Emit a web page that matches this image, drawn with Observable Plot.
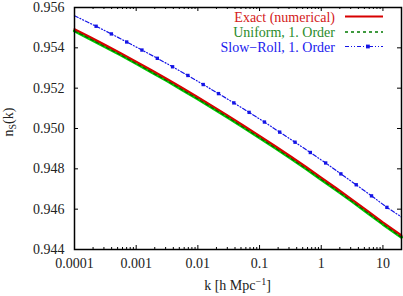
<!DOCTYPE html>
<html><head><meta charset="utf-8">
<script src="https://cdn.jsdelivr.net/npm/d3@7"></script>
<script src="https://cdn.jsdelivr.net/npm/@observablehq/plot@0.6"></script>
<style>body{margin:0;background:#fff;} svg{display:block;}</style>
</head><body><div id="chart"></div>
<script>
// k values (h/Mpc) for the exact and uniform curves
const kGrid = [0.0001, 0.000178, 0.000316, 0.000562, 0.001, 0.00178, 0.00316, 0.00562,
  0.01, 0.0178, 0.0316, 0.0562, 0.1, 0.178, 0.316, 0.562, 1, 1.78, 3.16, 5.62, 10, 20];
const exactNs = [0.95493, 0.95454, 0.95414, 0.95374, 0.95332, 0.95289, 0.95246, 0.95201,
  0.95156, 0.95109, 0.95062, 0.95013, 0.94964, 0.94914, 0.94863, 0.94811, 0.94757,
  0.94703, 0.94648, 0.94592, 0.94535, 0.94470];
const uniformNs = [0.95484, 0.95445, 0.95405, 0.95365, 0.95323, 0.95280, 0.95237, 0.95192,
  0.95147, 0.95100, 0.95053, 0.95004, 0.94955, 0.94905, 0.94854, 0.94802, 0.94748,
  0.94694, 0.94639, 0.94583, 0.94526, 0.94461];
// slow-roll first order: line end points plus marker points
const slowRollK = [0.0001, 0.000224, 0.000396, 0.000702, 0.00124, 0.0022, 0.00389, 0.00689,
  0.0122, 0.0216, 0.0383, 0.0677, 0.120, 0.212, 0.376, 0.665, 1.18, 2.08, 3.69, 6.53, 11.6, 20];
const slowRollNs = [0.95559, 0.95507, 0.95469, 0.95429, 0.95389, 0.95348, 0.95306, 0.95263,
  0.95218, 0.95173, 0.95127, 0.95080, 0.95032, 0.94982, 0.94932, 0.94881, 0.94829,
  0.94775, 0.94721, 0.94666, 0.94609, 0.94561];
const xTicks = [0.0001, 0.001, 0.01, 0.1, 1, 10];
const xTickLabels = ["0.0001", "0.001", "0.01", "0.1", "1", "10"];
const xMinor = [0.0002,0.0003,0.0004,0.0005,0.0006,0.0007,0.0008,0.0009,
  0.002,0.003,0.004,0.005,0.006,0.007,0.008,0.009,
  0.02,0.03,0.04,0.05,0.06,0.07,0.08,0.09,
  0.2,0.3,0.4,0.5,0.6,0.7,0.8,0.9,
  2,3,4,5,6,7,8,9, 20];
const yTicks = [0.944, 0.946, 0.948, 0.950, 0.952, 0.954, 0.956];
const yTickLabels = ["0.944", "0.946", "0.948", "0.950", "0.952", "0.954", "0.956"];
const seriesNames = ["Exact (numerical)", "Uniform, 1. Order", "Slow\u2212Roll, 1. Order"];

const exact = kGrid.map((k, i) => ({k, v: exactNs[i]}));
const uniform = kGrid.map((k, i) => ({k, v: uniformNs[i]}));
const slow = slowRollK.map((k, i) => ({k, v: slowRollNs[i], i}));

const W = 403, H = 296, mL = 74, mR = 2, mT = 7, mB = 47;
const iw = W - mL - mR, ih = H - mT - mB;

const chart = Plot.plot({
  width: W, height: H,
  marginLeft: mL, marginRight: mR, marginTop: mT, marginBottom: mB,
  style: {fontFamily: "'Liberation Serif', 'Times New Roman', serif", fontSize: "14px", background: "white", color: "#222"},
  x: {type: "log", domain: [0.0001, 20], axis: null},
  y: {domain: [0.944, 0.956], axis: null},
  marks: [
    Plot.line(uniform, {x: "k", y: "v", stroke: "#00cc00", strokeWidth: 3.2}),
    Plot.line(uniform, {x: "k", y: "v", stroke: "#006b00", strokeWidth: 1.4, strokeDasharray: "3,3"}),
    Plot.line(exact, {x: "k", y: "v", stroke: "#d80000", strokeWidth: 2}),
    Plot.line(slow, {x: "k", y: "v", stroke: "#1414e6", strokeWidth: 1.2, strokeDasharray: "4,2,1,2,1,2"}),
    Plot.dot(slow.filter(d => d.i > 0 && d.i < slow.length - 1), {x: "k", y: "v", symbol: "square", r: 1.9, fill: "#1414e6", stroke: "none"}),
    Plot.tickX(xTicks, {x: d => d, insetTop: ih - 4, stroke: "black"}),
    Plot.tickX(xTicks, {x: d => d, insetBottom: ih - 4, stroke: "black"}),
    Plot.tickX(xMinor, {x: d => d, insetTop: ih - 2, stroke: "black"}),
    Plot.tickX(xMinor, {x: d => d, insetBottom: ih - 2, stroke: "black"}),
    Plot.tickY(yTicks, {y: d => d, insetRight: iw - 4, stroke: "black"}),
    Plot.tickY(yTicks, {y: d => d, insetLeft: iw - 4, stroke: "black"}),
    Plot.axisX(xTicks, {tickSize: 0, tickPadding: 9, tickFormat: d => xTickLabels[xTicks.indexOf(d)], label: null, fontSize: 14, fill: "#222"}),
    Plot.axisY(yTicks, {tickSize: 0, tickPadding: 10, tickFormat: d => yTickLabels[yTicks.indexOf(d)], label: null, fontSize: 14, fill: "#222"}),
    Plot.frame({stroke: "black", strokeWidth: 1.5})
  ]
});
document.getElementById("chart").appendChild(chart);

const svg = d3.select(chart);
const ff = "'Liberation Serif', 'Times New Roman', serif";
// x axis label
const xl = svg.append("text").attr("x", mL + iw / 2).attr("y", 290)
  .attr("text-anchor", "middle").attr("font-family", ff).attr("font-size", 14).attr("fill", "#222");
xl.append("tspan").text("k [h Mpc");
xl.append("tspan").attr("font-size", 10).attr("dy", -5).text("\u22121");
xl.append("tspan").attr("dy", 5).text("]");
// y axis label
const yl = svg.append("text").attr("transform", `translate(13,122) rotate(-90)`)
  .attr("text-anchor", "middle").attr("font-family", ff).attr("font-size", 14).attr("fill", "#222");
yl.append("tspan").text("n");
yl.append("tspan").attr("font-size", 10).attr("dy", 3).text("S");
yl.append("tspan").attr("dy", -3).text("(k)");
// legend
const legColors = ["#d42020", "#2a8c2a", "#1a1aee"];
const rows = [16.5, 32, 46.5];
seriesNames.forEach((name, i) => {
  svg.append("text").attr("x", 335).attr("y", rows[i] + 5).attr("text-anchor", "end")
    .attr("font-family", ff).attr("font-size", 14).attr("fill", legColors[i]).text(name);
});
svg.append("line").attr("x1", 345).attr("x2", 383).attr("y1", rows[0]).attr("y2", rows[0])
  .attr("stroke", "#d80000").attr("stroke-width", 2);
svg.append("line").attr("x1", 345).attr("x2", 383).attr("y1", rows[1]).attr("y2", rows[1])
  .attr("stroke", "#007a00").attr("stroke-width", 1.5).attr("stroke-dasharray", "3,3");
svg.append("line").attr("x1", 345).attr("x2", 383).attr("y1", rows[2]).attr("y2", rows[2])
  .attr("stroke", "#1414e6").attr("stroke-width", 1.2).attr("stroke-dasharray", "4,2,1,2,1,2");
svg.append("rect").attr("x", 366).attr("y", rows[2] - 1.9).attr("width", 3.8).attr("height", 3.8).attr("fill", "#1414e6");
</script>
</body></html>
